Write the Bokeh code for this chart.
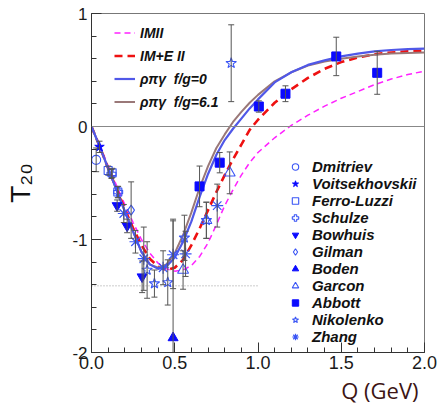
import math
from bokeh.plotting import figure
from bokeh.models import (Range1d, FixedTicker, Legend, LegendItem, Whisker,
                          TeeHead, ColumnDataSource, Span, Title)
from bokeh.embed import file_html
from bokeh.resources import INLINE

# ---------------- data ----------------
Q_GRID = [0.0, 0.05, 0.1, 0.15, 0.2, 0.25, 0.3, 0.35, 0.4, 0.45, 0.5, 0.55, 0.6, 0.65,
          0.7, 0.75, 0.8, 0.85, 0.9, 0.95, 1.0, 1.1, 1.2, 1.3, 1.4, 1.5, 1.6, 1.7, 1.8,
          1.9, 2.0]
T_IMII = [0, -0.17, -0.35, -0.52, -0.69, -0.85, -1.0, -1.12, -1.21, -1.26, -1.28, -1.27,
          -1.23, -1.15, -1.03, -0.87, -0.70, -0.56, -0.43, -0.32, -0.23, -0.10, 0.01, 0.10,
          0.18, 0.25, 0.31, 0.37, 0.42, 0.46, 0.49]
T_IME = [0, -0.18, -0.37, -0.55, -0.73, -0.90, -1.05, -1.17, -1.24, -1.27, -1.25, -1.18,
         -1.05, -0.90, -0.74, -0.58, -0.43, -0.29, -0.16, -0.03, 0.06, 0.21, 0.33, 0.43,
         0.51, 0.57, 0.61, 0.64, 0.655, 0.665, 0.67]
T_FG0 = [0, -0.18, -0.37, -0.56, -0.75, -0.93, -1.11, -1.22, -1.26, -1.24, -1.16, -1.02,
         -0.84, -0.62, -0.42, -0.25, -0.12, -0.02, 0.07, 0.16, 0.24, 0.39, 0.48, 0.545,
         0.585, 0.62, 0.645, 0.665, 0.677, 0.685, 0.69]
T_FG61 = [0, -0.18, -0.37, -0.56, -0.75, -0.93, -1.11, -1.22, -1.25, -1.22, -1.12, -0.96,
          -0.76, -0.54, -0.35, -0.19, -0.07, 0.04, 0.13, 0.21, 0.28, 0.40, 0.48, 0.54,
          0.575, 0.60, 0.62, 0.635, 0.645, 0.65, 0.655]

# experiments: Q, T20, error
DMITRIEV_Q = [0.028];               DMITRIEV_T = [-0.295];               DMITRIEV_E = [0.105]
VOITS_Q = [0.048];                  VOITS_T = [-0.18];                   VOITS_E = [0.05]
FERRO_Q = [0.10, 0.124, 0.158];     FERRO_T = [-0.39, -0.41, -0.58];     FERRO_E = [0.04, 0.04, 0.05]
SCHULZE_Q = [0.12, 0.16];           SCHULZE_T = [-0.42, -0.58];          SCHULZE_E = [0.04, 0.05]
BOWHUIS_Q = [0.154, 0.214, 0.304];  BOWHUIS_T = [-0.70, -0.88, -1.33];   BOWHUIS_E = [0.05, 0.06, 0.14]
GILMAN_Q = [0.238];                 GILMAN_T = [-0.74];                  GILMAN_E = [0.25]
BODEN_Q = [0.49];                   BODEN_T = [-1.87];                   BODEN_E = [1.05]
GARCON_Q = [0.55, 0.69, 0.83];      GARCON_T = [-1.27, -0.83, -0.41];    GARCON_E = [0.17, 0.16, 0.185]
ABBOTT_Q = [0.649, 0.77, 1.005, 1.165, 1.47, 1.716]
ABBOTT_T = [-0.53, -0.32, 0.177, 0.29, 0.62, 0.475]
ABBOTT_E = [0.18, 0.09, 0.05, 0.07, 0.17, 0.19]
NIKOL_Q = [0.334, 0.378, 0.458, 0.558, 0.69, 0.839]
NIKOL_T = [-1.27, -1.39, -1.38, -0.985, -0.83, 0.56]
NIKOL_E = [0.25, 0.12, 0.2, 0.2, 0.16, 0.34]
ZHANG_Q = [0.194, 0.264, 0.314, 0.43, 0.49, 0.565, 0.755]
ZHANG_T = [-0.77, -1.02, -1.17, -1.25, -1.135, -1.127, -0.70]
ZHANG_E = [0.08, 0.1, 0.28, 0.15, 0.3, 0.2, 0.19]

DOT_Q = [0.0, 1.0]
DOT_T = [-1.41, -1.41]

X_TICKS = [0.0, 0.5, 1.0, 1.5, 2.0]
X_TICK_LABELS = ["0.0", "0.5", "1.0", "1.5", "2.0"]
Y_TICKS = [-2, -1, 0, 1]
Y_TICK_LABELS = ["-2", "-1", "0", "1"]

# ---------------- figure ----------------
p = figure(width=438, height=407, x_range=Range1d(0, 2), y_range=Range1d(-2, 1),
           output_backend="svg", toolbar_location=None,
           min_border_left=91, min_border_right=14, min_border_top=13, min_border_bottom=55)
p.grid.visible = False
p.background_fill_color = "white"
p.border_fill_color = "white"
p.outline_line_color = "#777777"
p.outline_line_width = 1

p.xaxis.ticker = FixedTicker(ticks=X_TICKS, minor_ticks=[round(0.1 * i, 2) for i in range(21)])
p.yaxis.ticker = FixedTicker(ticks=Y_TICKS, minor_ticks=[round(-2 + 0.2 * i, 2) for i in range(16)])
p.xaxis.major_label_overrides = {t: l for t, l in zip(X_TICKS, X_TICK_LABELS)}
p.yaxis.major_label_overrides = {t: l for t, l in zip(Y_TICKS, Y_TICK_LABELS)}
for ax in (p.xaxis, p.yaxis):
    ax.major_tick_in = 10
    ax.major_tick_out = 0
    ax.minor_tick_in = 5
    ax.minor_tick_out = 0
    ax.axis_line_color = "#333333"
    ax.major_tick_line_color = "#333333"
    ax.minor_tick_line_color = "#333333"
    ax.major_label_text_font = "Liberation Sans"
    ax.major_label_text_font_size = "18px"
    ax.major_label_text_color = "#1a1a1a"
p.xaxis.major_label_standoff = 3
p.yaxis.major_label_standoff = 4
p.yaxis.major_label_text_font_size = "17px"

# y axis title (T with subscript 20)
p.yaxis.axis_label = "T\u2082\u2080"
p.yaxis.axis_label_text_font = "Liberation Sans"
p.yaxis.axis_label_text_font_style = "normal"
p.yaxis.axis_label_text_font_size = "28px"
p.yaxis.axis_label_text_color = "#111111"
p.yaxis.axis_label_standoff = 33

# x axis title, right-aligned below the axis
p.add_layout(Title(text="Q (GeV)", align="right", offset=6, text_font="Open Sans",
                   text_font_style="normal", text_font_size="22px",
                   text_color="#3c1414", standoff=3), "below")

# reference lines
p.add_layout(Span(location=0, dimension="width", line_color="#888888", line_width=1.2))
p.line(DOT_Q, DOT_T, line_color="#999999", line_width=1, line_dash="1 2")

# curves
r_mag = p.line(Q_GRID, T_IMII, line_color="#ff22ff", line_width=1.5, line_dash="6 4")
r_red = p.line(Q_GRID, T_IME, line_color="#ee1111", line_width=2.6, line_dash="8 5")
r_fg61 = p.line(Q_GRID, T_FG61, line_color="#9a7878", line_width=2)
r_fg0 = p.line(Q_GRID, T_FG0, line_color="#5058e8", line_width=2.2)

# error bars
ERR_SETS = [(DMITRIEV_Q, DMITRIEV_T, DMITRIEV_E), (VOITS_Q, VOITS_T, VOITS_E),
            (FERRO_Q, FERRO_T, FERRO_E), (SCHULZE_Q, SCHULZE_T, SCHULZE_E),
            (BOWHUIS_Q, BOWHUIS_T, BOWHUIS_E), (GILMAN_Q, GILMAN_T, GILMAN_E),
            (BODEN_Q, BODEN_T, BODEN_E), (GARCON_Q, GARCON_T, GARCON_E),
            (ABBOTT_Q, ABBOTT_T, ABBOTT_E), (NIKOL_Q, NIKOL_T, NIKOL_E),
            (ZHANG_Q, ZHANG_T, ZHANG_E)]
eq, elo, ehi = [], [], []
for qs, ts, es in ERR_SETS:
    for q, t, e in zip(qs, ts, es):
        eq.append(q); elo.append(t - e); ehi.append(t + e)
esrc = ColumnDataSource(dict(q=eq, lo=elo, hi=ehi))
p.add_layout(Whisker(source=esrc, base="q", lower="lo", upper="hi", line_color="#555555",
                     line_width=1, level="glyph",
                     upper_head=TeeHead(size=6, line_color="#555555", line_width=1),
                     lower_head=TeeHead(size=6, line_color="#555555", line_width=1)))

BLUE = "#0a0aff"
OPEN = "#3a55f5"
def pts(qs, ts, marker, size, filled):
    if filled:
        return p.scatter(qs, ts, marker=marker, size=size, fill_color=BLUE, line_color=BLUE)
    return p.scatter(qs, ts, marker=marker, size=size, fill_color="white", fill_alpha=0,
                     line_color=OPEN, line_width=1.1)

r_dm = pts(DMITRIEV_Q, DMITRIEV_T, "circle", 9, False)
r_vo = pts(VOITS_Q, VOITS_T, "star", 10, True)
r_fe = pts(FERRO_Q, FERRO_T, "square", 8, False)
r_sc = pts(SCHULZE_Q, SCHULZE_T, "plus", 9, False)
r_bw = pts(BOWHUIS_Q, BOWHUIS_T, "inverted_triangle", 10, True)
r_gi = pts(GILMAN_Q, GILMAN_T, "diamond", 10, False)
r_bo = pts(BODEN_Q, BODEN_T, "triangle", 10, True)
r_ga = pts(GARCON_Q, GARCON_T, "triangle", 11, False)
r_ab = pts(ABBOTT_Q, ABBOTT_T, "square", 9, True)
r_ni = pts(NIKOL_Q, NIKOL_T, "star", 11, False)
r_zh = p.scatter(ZHANG_Q, ZHANG_T, marker="asterisk", size=12, line_color=OPEN, line_width=1.2)

# legends
leg1 = Legend(items=[LegendItem(label="IMII", renderers=[r_mag]),
                     LegendItem(label="IM+E II", renderers=[r_red]),
                     LegendItem(label="ρπγ  f/g=0", renderers=[r_fg0]),
                     LegendItem(label="ρπγ  f/g=6.1", renderers=[r_fg61])],
              location=(23, 239), padding=0, spacing=0, margin=0,
              glyph_width=21, glyph_height=23, label_height=23, label_standoff=5,
              border_line_color=None, background_fill_alpha=0,
              label_text_font="Liberation Sans", label_text_font_style="bold italic",
              label_text_font_size="14px", label_text_color="#111111")
p.add_layout(leg1)

NAMES = ["Dmitriev", "Voitsekhovskii", "Ferro-Luzzi", "Schulze", "Bowhuis", "Gilman",
         "Boden", "Garcon", "Abbott", "Nikolenko", "Zhang"]
RENDS = [r_dm, r_vo, r_fe, r_sc, r_bw, r_gi, r_bo, r_ga, r_ab, r_ni, r_zh]
leg2 = Legend(items=[LegendItem(label=n, renderers=[r]) for n, r in zip(NAMES, RENDS)],
              location=(196, 7), padding=0, spacing=0, margin=0,
              glyph_width=16, glyph_height=17, label_height=17, label_standoff=9,
              border_line_color=None, background_fill_alpha=0,
              label_text_font="Liberation Sans", label_text_font_style="bold italic",
              label_text_font_size="15px", label_text_color="#111111")
p.add_layout(leg2)

open("out.html", "w").write(file_html(p, INLINE))
